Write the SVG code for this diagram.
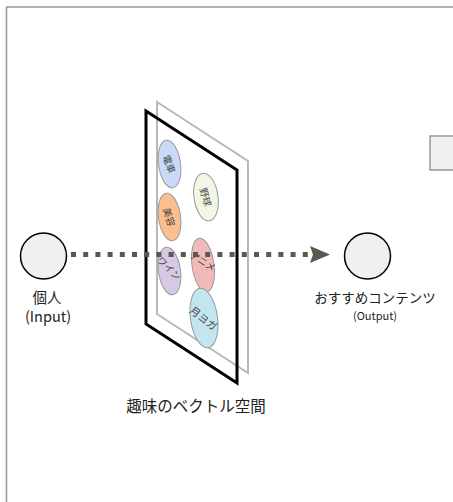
<svg xmlns="http://www.w3.org/2000/svg" width="453" height="502" viewBox="0 0 453 502">
<style>
.lbl{font-family:"Noto Sans CJK JP","Liberation Sans",sans-serif;fill:#222;}
.node{fill:#f0f0f0;stroke:#000;stroke-width:1.5;}
.bub{stroke:#999;stroke-width:1;}
.bt{font-family:"Noto Sans CJK JP",sans-serif;font-size:9.5px;fill:#444;text-anchor:middle;dominant-baseline:central;}
</style>
<rect x="6.5" y="7" width="460" height="510" fill="#fff" stroke="#999" stroke-width="1.5"/>
<rect x="430" y="136" width="40" height="34" fill="#f0f0f0" stroke="#999" stroke-width="1.5"/>
<g id="space">
<polygon points="157,102 248,161 248,373 157,314" fill="#fff" stroke="#b8b8b8" stroke-width="2"/>
<g id="bubbles">
<ellipse class="bub" cx="169.5" cy="164" rx="11" ry="24" fill="#c9daf8" transform="rotate(-8 169.5 164)"/>
<text class="bt" transform="translate(169.5 164) rotate(70)">電車</text>
<ellipse class="bub" cx="206" cy="197" rx="12" ry="24" fill="#f2f6e4" transform="rotate(-8 206 197)"/>
<text class="bt" transform="translate(206 197) rotate(74)">野球</text>
<ellipse class="bub" cx="169.5" cy="217" rx="11" ry="24" fill="#fbbf8d" transform="rotate(-8 169.5 217)"/>
<text class="bt" transform="translate(169.5 217) rotate(74)">美容</text>
<ellipse class="bub" cx="169.5" cy="271" rx="11" ry="24" fill="#d7c8e6" transform="rotate(-8 169.5 271)"/>
<text class="bt" transform="translate(169.5 268) rotate(45)">ワイン</text>
<ellipse class="bub" cx="203" cy="265" rx="11" ry="27" fill="#f2b9b9" transform="rotate(-8 203 265)"/>
<text class="bt" transform="translate(203 261) rotate(32)">アニメ</text>
<ellipse class="bub" cx="204" cy="318" rx="13.5" ry="30" fill="#c2e5ef" transform="rotate(-8 204 318)"/>
<text class="bt" style="font-size:10.5px" transform="translate(204 318) rotate(38)">月ヨガ</text>
</g>
<polygon points="146,111 237,170 237,383 146,324" fill="none" stroke="#000" stroke-width="3"/>
<text class="lbl" x="196" y="412" font-size="15.5" text-anchor="middle">趣味のベクトル空間</text>
</g>
<g id="connectors">
<line x1="71" y1="254.5" x2="312" y2="254.5" stroke="#595950" stroke-width="5" stroke-dasharray="5 7.2"/>
<polygon points="310,246 330,254.5 310,263 313,254.5" fill="#595950"/>
</g>
<g id="input">
<circle class="node" cx="43.5" cy="256" r="23"/>
<text class="lbl" x="47" y="303" font-size="14.5" text-anchor="middle">個人</text>
<text class="lbl" x="48" y="322" font-size="14.5" text-anchor="middle">(Input)</text>
</g>
<g id="output">
<circle class="node" cx="367.5" cy="256" r="23"/>
<text class="lbl" x="375" y="303" font-size="13.5" text-anchor="middle">おすすめコンテンツ</text>
<text class="lbl" x="375" y="320" font-size="11" text-anchor="middle">(Output)</text>
</g>
</svg>
